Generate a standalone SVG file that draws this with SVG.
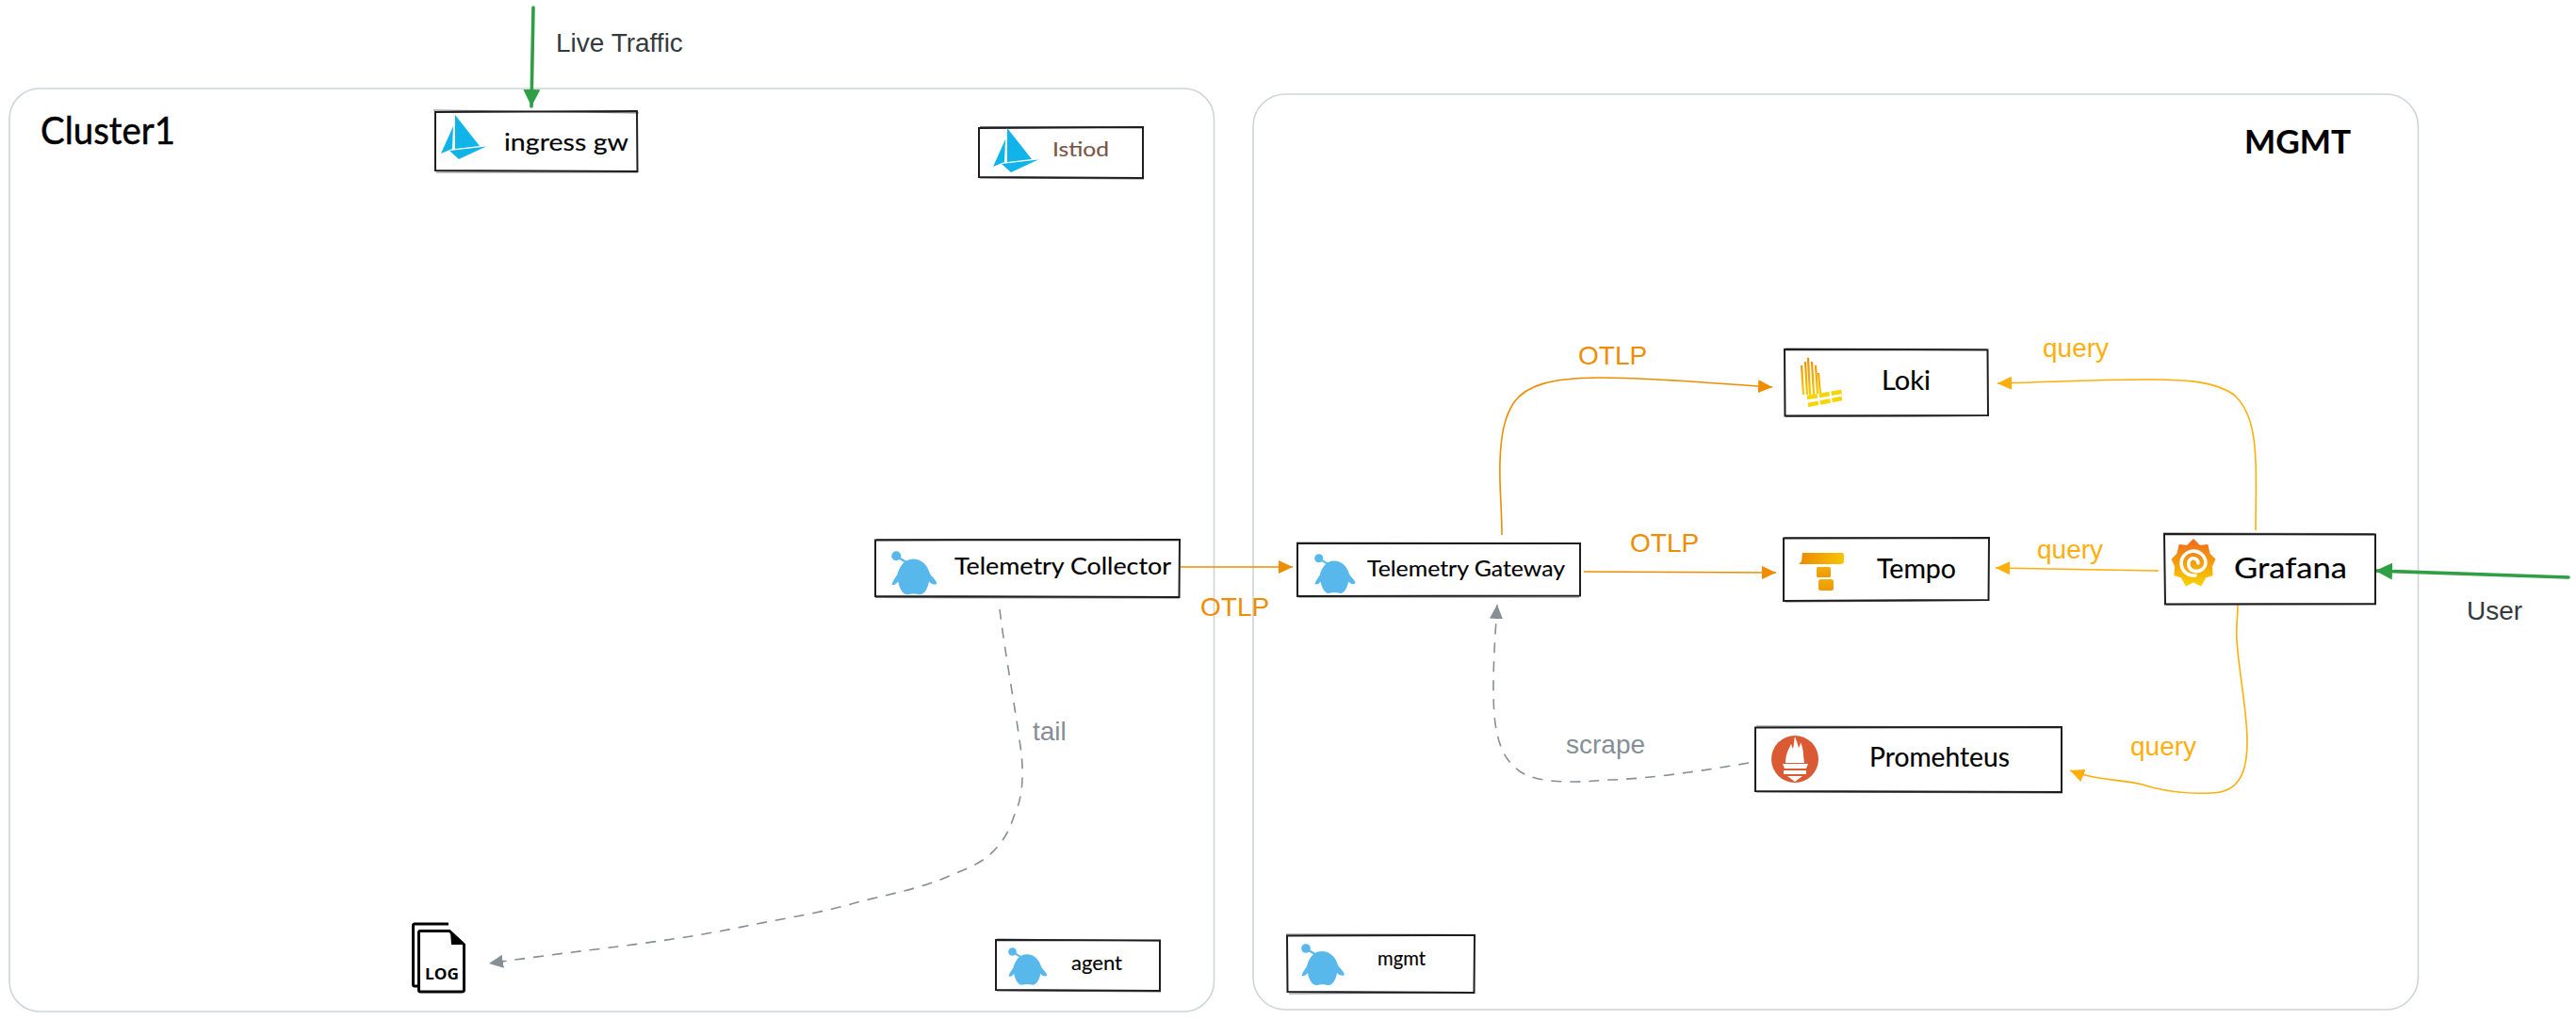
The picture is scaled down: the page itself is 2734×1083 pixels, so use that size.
<svg xmlns="http://www.w3.org/2000/svg" width="2734" height="1083" viewBox="0 0 2734 1083">
<style>
.bg{fill:#fff}
.container{fill:none;stroke:#ced4da;stroke-width:1.6}
.box{fill:#fff;stroke:#1e1e1e;stroke-width:2}
.box2{fill:none;stroke:#1e1e1e;stroke-width:1.2;opacity:.6}
.hand{font-family:"Lato","Noto Sans",sans-serif;fill:#000;stroke:#000;stroke-width:.15}
.lbl{font-family:"Liberation Sans",Arial,sans-serif;font-size:28px}
.dark{fill:#343a40}
.or{fill:#f08c00}
.ye{fill:#ffae0a}
.gr{fill:#868e96}
.cO{fill:none;stroke:#f08c00;stroke-width:1.6}
.cY{fill:none;stroke:#ffae0a;stroke-width:1.6}
.cG{fill:none;stroke:#868e96;stroke-width:1.6;stroke-dasharray:11 9}
.cT{fill:none;stroke:#2f9e44;stroke-width:3.6;stroke-linecap:round}
</style>
<defs>
<marker id="mO" markerUnits="userSpaceOnUse" markerWidth="16" markerHeight="16" refX="15" refY="8" orient="auto"><path d="M0,1 L15,8 L0,15 Z" fill="#f08c00"/></marker>
<marker id="mY" markerUnits="userSpaceOnUse" markerWidth="16" markerHeight="16" refX="15" refY="8" orient="auto"><path d="M0,1 L15,8 L0,15 Z" fill="#ffae0a"/></marker>
<marker id="mG" markerUnits="userSpaceOnUse" markerWidth="16" markerHeight="16" refX="15" refY="8" orient="auto"><path d="M0,1 L15,8 L0,15 Z" fill="#868e96"/></marker>
<marker id="mT" markerUnits="userSpaceOnUse" markerWidth="20" markerHeight="20" refX="18" refY="10" orient="auto"><path d="M0,1 L18,10 L0,19 Z" fill="#2f9e44"/></marker>
<g id="sail" fill="#10b4e8">
<path d="M13,12 L0,41 L12,36 Z"/>
<path d="M15,0 L41,33 L15,36 Z"/>
<path d="M9,38 L48,33.500 L19,47 Z"/>
</g>
<g id="bot" fill="#58b8ec">
<circle cx="5" cy="5" r="4.8"/>
<path d="M6,6 L18,13" stroke="#58b8ec" stroke-width="2.2"/>
<path d="M22,8 C13,8 8,16 6,24 C4,27 1,31 .5,34 C3,35 5,33 7,31 C8,38 12,45 17,44 C20,43 25,43 28,44 C33,45 37,38 38,31 C40,33 43,35 46,33 C45,29 41,26 39,23 C37,15 31,8 22,8 Z"/>
</g>
<linearGradient id="gVert" x1="0" y1="0" x2="0" y2="1"><stop offset="0" stop-color="#f06a1c"/><stop offset="1" stop-color="#f9d000"/></linearGradient>
<linearGradient id="gLoki" gradientUnits="userSpaceOnUse" x1="0" y1="380" x2="0" y2="430"><stop offset="0" stop-color="#f08c00"/><stop offset="1" stop-color="#f8dc00"/></linearGradient>
<linearGradient id="gTempoH" x1="0" y1="0" x2="1" y2="0"><stop offset="0" stop-color="#ec8800"/><stop offset="1" stop-color="#f8c400"/></linearGradient>
<linearGradient id="gTempoV" x1="0" y1="0" x2="0" y2="1"><stop offset="0" stop-color="#f2ac10"/><stop offset="1" stop-color="#ec9800"/></linearGradient>
</defs>
<rect class="bg" width="2734" height="1083"/>

<g id="cluster1">
<rect class="container" x="10" y="94" width="1278.5" height="980" rx="32"/>
<text class="hand" x="43" y="153" font-size="40" style="stroke-width:.5" textLength="143" lengthAdjust="spacingAndGlyphs">Cluster1</text>
</g>
<g id="mgmt-cluster">
<rect class="container" x="1330" y="100" width="1236.5" height="972" rx="34"/>
<text class="hand" x="2382" y="163" font-size="34" font-weight="700" textLength="113" lengthAdjust="spacingAndGlyphs">MGMT</text>
</g>

<g id="connectors">
<path class="cT" d="M566,8 L564,113" marker-end="url(#mT)"/>
<path class="cT" d="M2726,613 L2521,606" marker-end="url(#mT)"/>
<path class="cO" d="M1253,602 L1372,602" marker-end="url(#mO)"/>
<path class="cO" d="M1594,568 C1594,540 1591,515 1592,490 C1593,460 1597,442 1607,427 C1619,410 1645,401 1697,401 C1760,401 1830,408 1881,411" marker-end="url(#mO)"/>
<path class="cO" d="M1681,607 L1885,608" marker-end="url(#mO)"/>
<path class="cY" d="M2394,563 C2394,530 2395,515 2394,490 C2393,460 2388,435 2372,420 C2350,403 2310,403 2276,403 C2220,403 2170,406 2120,407" marker-end="url(#mY)"/>
<path class="cY" d="M2291,606 L2118,603" marker-end="url(#mY)"/>
<path class="cY" d="M2375,641 C2375,655 2373,665 2374,680 C2377,720 2385,755 2385,787 C2385,818 2378,842 2346,842 C2320,843 2295,840 2274,833 C2250,827 2225,829 2197,818" marker-end="url(#mY)"/>
<path class="cG" d="M1856,810 C1810,818 1750,827 1708,828 C1680,830 1636,834 1613,819 C1597,808 1589,790 1586,760 C1584,730 1585,700 1589,642" marker-end="url(#mG)"/>
<path class="cG" d="M1061,647 C1066,690 1079,760 1084,800 C1087,830 1084,850 1076,867 C1070,885 1063,896 1050,908 C1038,918 1025,923 1012,928 C980,943 945,949 910,958 C870,970 825,976 783,985 C700,1002 620,1008 519,1023" marker-end="url(#mG)"/>
</g>

<g id="live-traffic-label"><text class="lbl dark" x="590" y="55">Live Traffic</text></g>
<g id="otlp-label-1"><text class="lbl or" x="1274" y="654">OTLP</text></g>
<g id="otlp-label-2"><text class="lbl or" x="1675" y="387">OTLP</text></g>
<g id="otlp-label-3"><text class="lbl or" x="1730" y="586">OTLP</text></g>
<g id="query-label-1"><text class="lbl ye" x="2168" y="379">query</text></g>
<g id="query-label-2"><text class="lbl ye" x="2162" y="593">query</text></g>
<g id="query-label-3"><text class="lbl ye" x="2261" y="802">query</text></g>
<g id="tail-label"><text class="lbl gr" x="1096" y="786">tail</text></g>
<g id="scrape-label"><text class="lbl gr" x="1662" y="800">scrape</text></g>
<g id="user-label"><text class="lbl dark" x="2618" y="658">User</text></g>

<g id="ingress-gw">
<path class="box" d="M462,119 L676,118 L676.5,182 L462,181 Z"/>
<path class="box2" d="M460,117 L678,120 M463,183 L677,183"/>
<use href="#sail" x="468" y="122"/>
<text class="hand" x="535" y="160" font-size="25" textLength="132" lengthAdjust="spacingAndGlyphs">ingress gw</text>
</g>
<g id="istiod">
<path class="box" d="M1039,136 L1213,135 L1213,189 L1039,188 Z"/>
<path class="box2" d="M1040,134.500 L1214,134.500 M1040,189 L1214,190"/>
<use href="#sail" x="1054" y="136"/>
<text class="hand" x="1117" y="166" font-size="21" style="fill:#795548;stroke:#795548" textLength="60" lengthAdjust="spacingAndGlyphs">Istiod</text>
</g>
<g id="telemetry-collector">
<path class="box" d="M929,573.500 L1252,573 L1251.500,634 L929,633 Z"/>
<path class="box2" d="M930,572.500 L1250,573 M929,634.500 L1252,635"/>
<use href="#bot" transform="translate(946,585) scale(1.05)"/>
<text class="hand" x="1013" y="610" font-size="25" textLength="230" lengthAdjust="spacingAndGlyphs">Telemetry Collector</text>
</g>
<g id="telemetry-gateway">
<path class="box" d="M1377,577 L1677,577 L1677,632.500 L1377,633 Z"/>
<path class="box2" d="M1376,576 L1678,576.500 M1378,634 L1676,634"/>
<use href="#bot" transform="translate(1395,588) scale(.95)"/>
<text class="hand" x="1451" y="612" font-size="24" textLength="210" lengthAdjust="spacingAndGlyphs">Telemetry Gateway</text>
</g>
<g id="agent">
<path class="box" d="M1057,998 L1231,998.500 L1231,1052 L1057,1051 Z"/>
<path class="box2" d="M1058,997 L1231,999 M1058,1052 L1232,1053"/>
<use href="#bot" transform="translate(1070,1006) scale(.9)"/>
<text class="hand" x="1137" y="1030" font-size="21" textLength="54" lengthAdjust="spacingAndGlyphs">agent</text>
</g>
<g id="mgmt">
<path class="box" d="M1366,993.500 L1565,993 L1564.500,1054 L1366.500,1053 Z"/>
<path class="box2" d="M1365,992 L1566,992.500 M1368,1055 L1565,1054"/>
<use href="#bot" transform="translate(1381,1002)"/>
<text class="hand" x="1462" y="1025" font-size="21" textLength="51" lengthAdjust="spacingAndGlyphs">mgmt</text>
</g>
<g id="loki">
<path class="box" d="M1894,371 L2109.500,371.500 L2110,441 L1894.500,441.500 Z"/>
<path class="box2" d="M1895,370 L2109,371 M1895,442.500 L2111,441.500"/>
<g fill="none" stroke="url(#gLoki)" stroke-width="2.200">
<path d="M1912,388 L1914,419"/><path d="M1916,384 L1918,419"/><path d="M1919,380 L1921,419"/><path d="M1923,384 L1925,419"/><path d="M1927,388 L1929,418"/><path d="M1930,396 L1932,418"/>
</g>
<g fill="none" stroke="#f6d500" stroke-width="4.500" stroke-dasharray="11 2">
<path d="M1918,422 L1955,416"/><path d="M1919,430 L1955,423"/>
</g>
<text class="hand" x="1997" y="414" font-size="28" textLength="52" lengthAdjust="spacingAndGlyphs">Loki</text>
</g>
<g id="tempo">
<path class="box" d="M1893,571.500 L2111,571 L2110.500,637 L1893,638 Z"/>
<path class="box2" d="M1894,570.500 L2110,571 M1895,639 L2111,637.500"/>
<path d="M1913,587 L1955,587 Q1957,587 1957,589 L1957,596 Q1957,599 1953,599 L1912,599 L1909,599 L1912,596 Z" fill="url(#gTempoH)"/>
<rect x="1928" y="602" width="15" height="11" rx="1.500" fill="url(#gTempoV)"/>
<rect x="1930" y="615" width="16" height="12" rx="2.500" fill="url(#gTempoV)"/>
<text class="hand" x="1992" y="614" font-size="29" textLength="84" lengthAdjust="spacingAndGlyphs">Tempo</text>
</g>
<g id="grafana">
<path class="box" d="M2297,567 L2521,567.500 L2521,641 L2298,641.500 Z"/>
<path class="box2" d="M2296,566 L2520,566.500 M2299,642 L2522,642"/>
<path transform="translate(2328,598)" fill="url(#gVert)" stroke="url(#gVert)" stroke-width="1.5" stroke-linejoin="round" d="M0,-25 L6.700,-18.300 L14.800,-19.200 L16.900,-9.750 L22.600,-4.300 L19.200,3.400 L19.900,12.500 L12.500,14.900 L7.900,23.500 L0,19.500 L-7.900,23.500 L-12.500,14.900 L-19.900,12.500 L-19.200,3.400 L-22.600,-4.300 L-16.900,-9.750 L-14.800,-19.200 L-6.700,-18.300 Z"/>
<path transform="translate(2328,598)" fill="none" stroke="#fff" stroke-width="3.6" stroke-linecap="round" d="M2,13 A13,13 0 1 1 13,-1 C13,6 6,10 0,8 C-6,6 -7,-2 -2,-5 C1,-6 5,-4 5,0"/>
<text class="hand" x="2371" y="614" font-size="31" textLength="120" lengthAdjust="spacingAndGlyphs">Grafana</text>
</g>
<g id="prometheus">
<path class="box" d="M1863,772.500 L2188,772 L2188,841 L1863,840 Z"/>
<path class="box2" d="M1864,771 L2187,772 M1864,841 L2189,842"/>
<circle cx="1905" cy="806" r="25" fill="#da5a33"/>
<path fill="#fff" d="M1905,782 C1907,787 1908,790 1909,794 C1910,792 1911,790 1911,788 C1913,793 1914,797 1914,802 L1915,810 L1895,810 C1895,805 1896,800 1898,796 C1899,794 1900,792 1901,790 C1902,792 1902,794 1903,795 C1904,791 1904,786 1905,782 Z M1892,811 L1919,811 L1917,816 L1894,816 Z M1893,818 L1917,818 L1917,822 L1893,822 Z M1897,824 L1913,824 L1905,830 Z"/>
<text class="hand" x="1984" y="814" font-size="28" textLength="149" lengthAdjust="spacingAndGlyphs">Promehteus</text>
</g>
<g id="log">
<path d="M476,981 L440,981 Q438.500,981 438.500,983 L438.500,1045 Q438.500,1047 440,1047 L445,1047" fill="none" stroke="#000" stroke-width="3"/>
<path d="M446,988.500 L477,988.500 L492.500,1003 L492.500,1051 Q492.500,1053 490,1053 L446,1053 Q444.500,1053 444.500,1051 L444.500,990 Q444.500,988.500 446,988.500 Z" fill="#fff" stroke="#000" stroke-width="3"/>
<path d="M478,988 L494,1003 L479,1003 Z" fill="#000"/>
<text x="451" y="1040" font-family="Open Sans,Noto Sans,sans-serif" font-weight="700" font-size="16.500" fill="#000" textLength="36" lengthAdjust="spacingAndGlyphs">LOG</text>
</g>
</svg>
